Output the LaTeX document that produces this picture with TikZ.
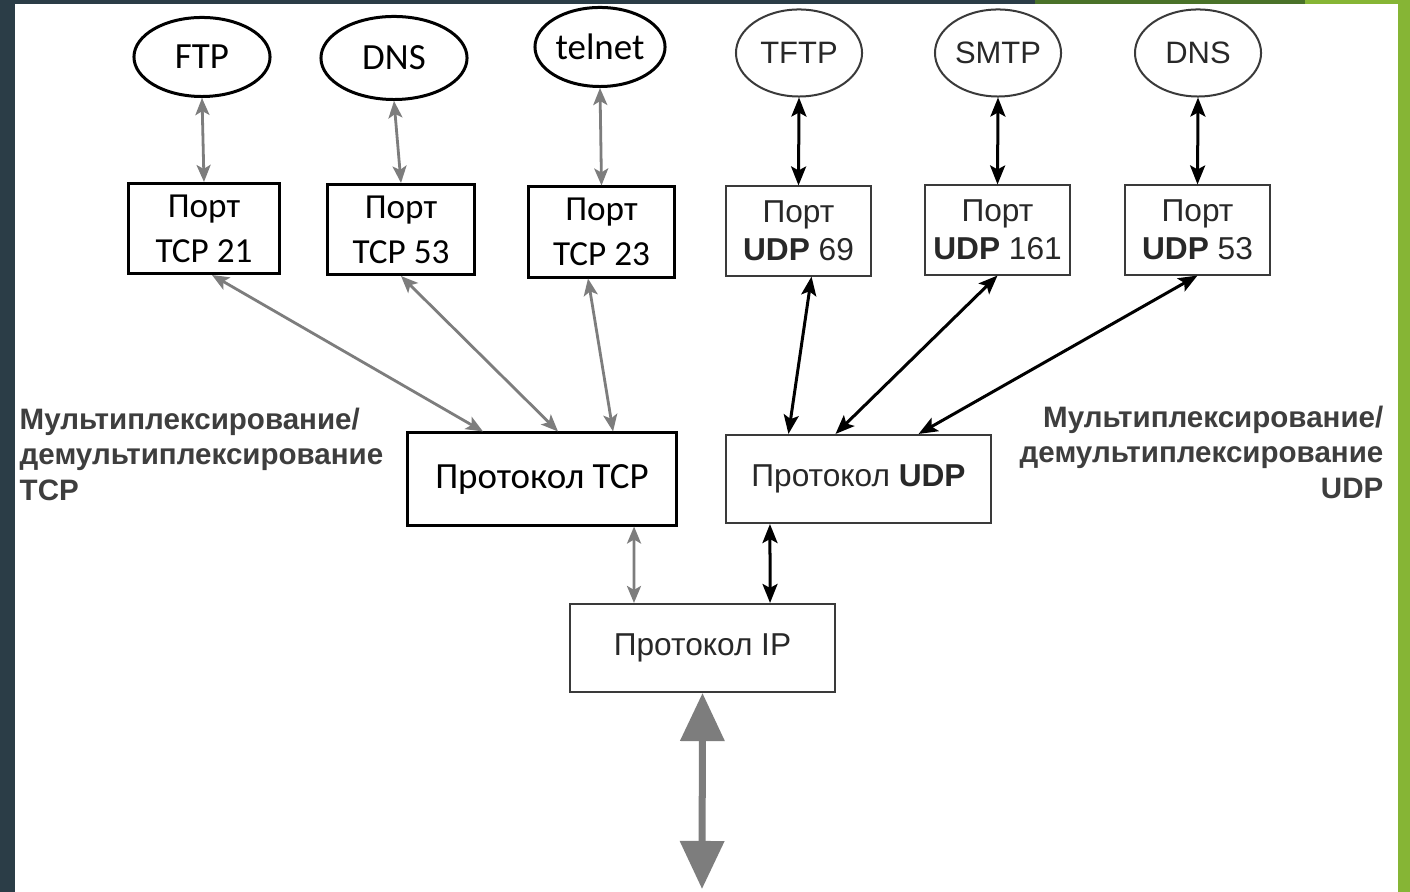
\documentclass[tikz,border=0pt]{standalone}
\usepackage{fontspec}
\usepackage{xcolor}
\usepackage{tikz}
\usetikzlibrary{shapes.geometric, arrows.meta}
\newfontfamily\calib{Carlito}
\newfontfamily\helv{Liberation Sans}
\definecolor{cSlate}{RGB}{43,61,71}
\definecolor{cGreenD}{RGB}{74,114,41}
\definecolor{cGreenL}{RGB}{134,181,53}
\definecolor{cArr}{RGB}{125,125,125}
\definecolor{cLine}{RGB}{58,58,58}
\definecolor{cText}{RGB}{40,40,40}
\definecolor{cLbl}{RGB}{62,62,62}
\tikzset{
	tcpell/.style  ={ellipse, draw=black, line width=0.03cm, inner sep=0pt, font=\calib\fontsize{10.5}{12.5}\selectfont},
	udpell/.style  ={ellipse, draw=cLine, line width=0.02cm, minimum width=1.26cm, minimum height=0.87cm, inner sep=0pt, text=cText, font=\helv\fontsize{8.8}{10}\selectfont},
	tcpbox/.style  ={rectangle, draw=black, line width=0.03cm, minimum width=1.46cm, minimum height=0.9cm, inner sep=0pt, align=center, font=\calib\fontsize{10}{12.8}\selectfont},
	udpbox/.style  ={rectangle, draw=cLine, line width=0.02cm, minimum width=1.45cm, minimum height=0.89cm, inner sep=0pt, align=center, text=cText, font=\helv\fontsize{9}{10.8}\selectfont},
	graydbl/.style ={{Stealth[length=0.17cm, width=0.14cm, inset=0.04cm]}-{Stealth[length=0.17cm, width=0.14cm, inset=0.04cm]}, draw=cArr, line width=0.028cm},
	blkdbl/.style  ={{Stealth[length=0.19cm, width=0.15cm, inset=0.04cm]}-{Stealth[length=0.19cm, width=0.15cm, inset=0.04cm]}, draw=black, line width=0.03cm},
	bigarr/.style  ={{Triangle[length=0.48cm, width=0.43cm]}-{Triangle[length=0.48cm, width=0.43cm]}, draw=cArr, fill=cArr, line width=0.07cm},
	sidelbl/.style ={inner sep=0pt, text=cLbl, font=\helv\bfseries\fontsize{8.4}{10.2}\selectfont},
}

\begin{document}
\begin{tikzpicture}[x=0.01cm, y=-0.01cm]
	\useasboundingbox (0,0) rectangle (1410,892);
	\fill[white] (0,0) rectangle (1410,892);
	\fill[cSlate] (0,0) rectangle (15,892);
	\fill[cSlate] (0,0) rectangle (1035,4);
	\fill[cGreenD] (1035,0) rectangle (1305,4);
	\fill[cGreenL] (1305,0) rectangle (1410,4);
	\fill[cGreenL] (1398,0) rectangle (1410,892);

	\node[tcpell, minimum width=1.36cm, minimum height=0.79cm] (ftp) at (202,57) {FTP};
	\node[tcpell, minimum width=1.46cm, minimum height=0.83cm] (dnsT) at (394,58) {DNS};
	\node[tcpell, minimum width=1.30cm, minimum height=0.79cm] (tel) at (600,47) {telnet};
	\node[udpell] (tftp) at (799,53) {TFTP};
	\node[udpell] (smtp) at (998,53) {SMTP};
	\node[udpell] (dnsU) at (1198,53) {DNS};

	\node[tcpbox, minimum width=1.50cm] (p21) at (204,228.5) {Порт\\TCP 21};
	\node[tcpbox] (p53) at (401,229.5) {Порт\\TCP 53};
	\node[tcpbox, minimum width=1.45cm] (p23) at (601.5,232) {Порт\\TCP 23};
	\node[udpbox] (u69) at (798.5,231) {Порт\\\textbf{UDP} 69};
	\node[udpbox] (u161) at (997.5,230) {Порт\\\textbf{UDP} 161};
	\node[udpbox] (u53) at (1197.5,230) {Порт\\\textbf{UDP} 53};

	\node[tcpbox, minimum width=2.68cm, minimum height=0.92cm, font=\calib\fontsize{10.5}{12}\selectfont] (tcp) at (542,479) {Протокол TCP};
	\node[udpbox, minimum width=2.65cm, minimum height=0.88cm] (udp) at (858.5,479) {Протокол \textbf{UDP}};
	\node[udpbox, minimum width=2.65cm, minimum height=0.88cm] (ip) at (702.5,648) {Протокол IP};

	\node[sidelbl, anchor=north west, align=left] (lblT) at (19,407) {Мультиплексирование/\\демультиплексирование\\TCP};
	\node[sidelbl, anchor=north east, align=right] (lblU) at (1384,405) {Мультиплексирование/\\демультиплексирование\\UDP};

	\draw[graydbl] (ftp.south) -- (p21.north); \draw[graydbl] (dnsT.south) -- (p53.north); \draw[graydbl] (tel.south) -- (p23.north);
	\draw[blkdbl] (tftp.south) -- (u69.north); \draw[blkdbl] (smtp.south) -- (u161.north); \draw[blkdbl] (dnsU.south) -- (u53.north);
	\draw[graydbl] ([xshift=0.08cm]p21.south) -- ([xshift=-0.59cm]tcp.north);
	\draw[graydbl] (p53.south) -- ([xshift=0.16cm]tcp.north);
	\draw[graydbl] ([xshift=-0.135cm]p23.south) -- ([xshift=0.71cm]tcp.north);
	\draw[blkdbl] ([xshift=0.13cm]u69.south) -- ([xshift=-0.70cm]udp.north);
	\draw[blkdbl] (u161.south) -- ([xshift=-0.23cm]udp.north);
	\draw[blkdbl] (u53.south) -- ([xshift=0.60cm]udp.north);
	\draw[graydbl] ([xshift=0.92cm]tcp.south) -- ([xshift=-0.685cm]ip.north);
	\draw[blkdbl] ([xshift=-0.885cm]udp.south) -- ([xshift=0.675cm]ip.north);
	\coordinate (net) at (702,889);
	\draw[bigarr] (ip.south) -- (net);
\end{tikzpicture}
\end{document}
